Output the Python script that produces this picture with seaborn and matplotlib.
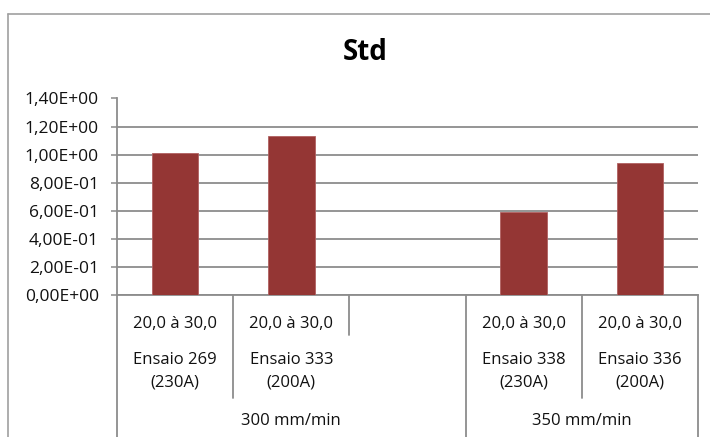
import matplotlib
matplotlib.use("Agg")
import matplotlib.pyplot as plt
import matplotlib.transforms as mtransforms
from matplotlib.lines import Line2D
import seaborn as sns
import pandas as pd

# Chart data
tests = ["Ensaio 269\n(230A)", "Ensaio 333\n(200A)", "", "Ensaio 338\n(230A)", "Ensaio 336\n(200A)"]
ranges = ["20,0 à 30,0", "20,0 à 30,0", "", "20,0 à 30,0", "20,0 à 30,0"]
speeds = ["300 mm/min", "350 mm/min"]
speed_spans = [(0, 2), (3, 4)]
std_values = [1.01, 1.13, None, 0.59, 0.94]
y_ticks = [0.0, 0.2, 0.4, 0.6, 0.8, 1.0, 1.2, 1.4]
y_tick_labels = ["0,00E+00", "2,00E-01", "4,00E-01", "6,00E-01",
                 "8,00E-01", "1,00E+00", "1,20E+00", "1,40E+00"]

sns.set_theme(style="white")
plt.rcParams["font.family"] = ["Open Sans", "DejaVu Sans"]

df = pd.DataFrame({"test": tests, "std": std_values}).dropna()

fig = plt.figure(figsize=(7.10, 4.37), dpi=100)
ax = fig.add_axes([117 / 710, 1 - 295 / 437, (698 - 117) / 710, (295 - 98.5) / 437])

grid_color = "#8c8c8c"
text_color = "#111111"
label_size = 12

sns.barplot(data=df, x="test", y="std", order=tests, color="#943634",
            width=0.4, saturation=1, ax=ax, edgecolor="#b06060", linewidth=0.6,
            zorder=3)

ax.set_ylim(0, 1.4)
ax.set_xlim(-0.5, len(tests) - 0.5)
ax.set_yticks(y_ticks)
ax.set_yticklabels(y_tick_labels, fontsize=label_size + 0.5, color=text_color)
ax.set_xticks([])
ax.set_xlabel("")
ax.set_ylabel("")
ax.yaxis.grid(True, color=grid_color, linewidth=1.3, zorder=0)
ax.set_axisbelow(True)
ax.tick_params(axis="y", which="both", left=True, length=4.5, width=1.1,
               color=grid_color, pad=8.5)
for side in ["top", "right"]:
    ax.spines[side].set_visible(False)
for side in ["left", "bottom"]:
    ax.spines[side].set_color(grid_color)
    ax.spines[side].set_linewidth(1.3)

fig.text(365 / 710, 1 - 52 / 437, "Std", fontsize=20, fontweight="bold",
         color="black", ha="center", va="center")

# Multi-level category axis
trans = mtransforms.blended_transform_factory(ax.transData, ax.transAxes)
px = 295 - 98.5


def yfrac(ypix):
    return (295 - ypix) / px


bottom = yfrac(437)
short_end = yfrac(335)
mid_end = yfrac(398)

# boundaries: (x position, lower end)
boundaries = [(-0.5, bottom), (0.5, mid_end), (1.5, short_end),
              (2.5, bottom), (3.5, mid_end), (4.5, bottom)]
for xb, yend in boundaries:
    ax.add_line(Line2D([xb, xb], [0, yend], transform=trans, color=grid_color,
                       linewidth=1.3, clip_on=False))

for i, (r, t) in enumerate(zip(ranges, tests)):
    if r:
        ax.text(i, yfrac(323.5), r, transform=trans, ha="center", va="center",
                fontsize=label_size, color=text_color)
    if t:
        ax.text(i, yfrac(371.5), t, transform=trans, ha="center", va="center",
                fontsize=label_size, color=text_color, linespacing=1.55)

for label, (a, b) in zip(speeds, speed_spans):
    ax.text((a + b) / 2, yfrac(421), label, transform=trans, ha="center",
            va="center", fontsize=label_size, color=text_color)

# Chart frame
frame_color = "#a0a0a0"
fig.add_artist(Line2D([7.5 / 710, 7.5 / 710], [0, 1 - 14 / 437],
                      transform=fig.transFigure, color=frame_color, linewidth=1.2))
fig.add_artist(Line2D([7.5 / 710, 1], [1 - 14 / 437, 1 - 14 / 437],
                      transform=fig.transFigure, color=frame_color, linewidth=1.2))

fig.savefig("out.png", dpi=100, facecolor="white")
